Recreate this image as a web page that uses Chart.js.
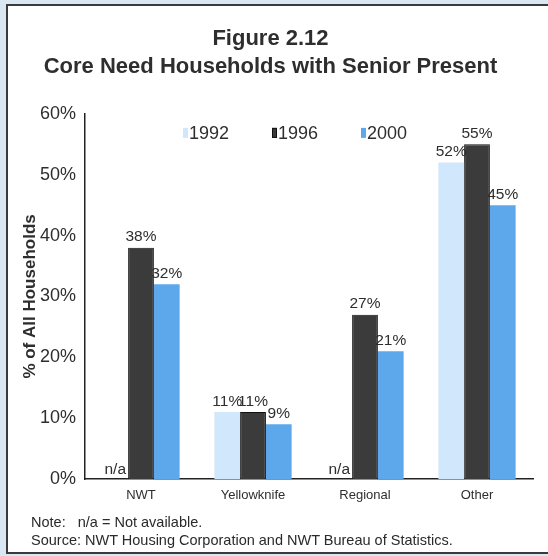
<!DOCTYPE html>
<html>
<head>
<meta charset="utf-8">
<script src="https://cdn.jsdelivr.net/npm/chart.js@4"></script>
<style>
    html, body { margin: 0; padding: 0; }
    body { width: 548px; height: 556px; background: #d9e7f3; overflow: hidden; position: relative; font-family: "Liberation Sans", Arial, sans-serif; }
    .frame { position: absolute; left: 6px; top: 4px; width: 560px; height: 550px; box-sizing: border-box; border: 2px solid #3a3a3a; background: #fff; }
    #chartBox { position: absolute; left: 0; top: 0; width: 540px; height: 545px; }
    .note { position: absolute; left: 23px; font-size: 14.5px; color: #2a2a2a; white-space: pre; }
</style>
</head>
<body>
<div class="frame">
    <div id="chartBox"><canvas id="seniorChart"></canvas></div>
    <div class="note" style="top: 508px;">Note:   n/a = Not available.</div>
    <div class="note" style="top: 526px;">Source: NWT Housing Corporation and NWT Bureau of Statistics.</div>
</div>
<script>
// chart data
const regions = ['NWT', 'Yellowknife', 'Regional', 'Other'];
const years = ['1992', '1996', '2000'];
const values1992 = [null, 11, null, 52];
const values1996 = [38, 11, 27, 55];
const values2000 = [32, 9, 21, 45];
const yTicks = [0, 10, 20, 30, 40, 50, 60];

const barColors = ['#d1e7fb', '#3b3b3b', '#5ca8eb'];
const textColor = '#2e2e2e';

// labels above each bar, "n/a" where there is no value
const barLabels = {
    id: 'barLabels',
    afterDatasetsDraw(chart) {
        const ctx = chart.ctx;
        const base = chart.scales.y.getPixelForValue(0);
        ctx.save();
        ctx.font = '15.5px "Liberation Sans", Arial, sans-serif';
        ctx.fillStyle = textColor;
        ctx.textAlign = 'center';
        ctx.textBaseline = 'bottom';
        chart.data.datasets.forEach((ds, di) => {
            chart.getDatasetMeta(di).data.forEach((bar, i) => {
                const v = ds.data[i];
                if (v === null) {
                    ctx.fillText('n/a', bar.x, base - 2);
                } else {
                    ctx.fillText(v + '%', bar.x, bar.y - 3);
                }
            });
        });
        ctx.restore();
    }
};

// legend sits inside the plot area near the top
const innerLegend = {
    id: 'innerLegend',
    afterDraw(chart) {
        const ctx = chart.ctx;
        const area = chart.chartArea;
        const y = area.top + 19;
        ctx.save();
        ctx.font = '18px "Liberation Sans", Arial, sans-serif';
        ctx.textBaseline = 'middle';
        ctx.textAlign = 'left';
        chart.data.datasets.forEach((ds, i) => {
            const x = area.left + 98 + i * 89;
            ctx.fillStyle = ds.backgroundColor;
            ctx.fillRect(x, y - 5, 5, 10);
            if (i === 1) {
                ctx.strokeStyle = '#111';
                ctx.lineWidth = 1;
                ctx.strokeRect(x + 0.5, y - 4.5, 4, 9);
            }
            ctx.fillStyle = textColor;
            ctx.fillText(ds.label, x + 6, y + 1);
        });
        ctx.restore();
    }
};

new Chart(document.getElementById('seniorChart'), {
    type: 'bar',
    data: {
        labels: regions,
        datasets: [
            { label: years[0], data: values1992, backgroundColor: barColors[0] },
            { label: years[1], data: values1996, backgroundColor: barColors[1], borderColor: '#111', borderWidth: 1 },
            { label: years[2], data: values2000, backgroundColor: barColors[2] }
        ]
    },
    options: {
        responsive: true,
        maintainAspectRatio: false,
        animation: false,
        categoryPercentage: 0.69,
        barPercentage: 1.0,
        layout: { padding: { left: 0, right: 15, top: 0, bottom: 42 } },
        plugins: {
            legend: { display: false },
            tooltip: { enabled: false },
            title: {
                display: true,
                text: ['Figure 2.12', 'Core Need Households with Senior Present'],
                color: textColor,
                font: { family: '"Liberation Sans", Arial, sans-serif', size: 22, weight: 'bold', lineHeight: 1.27 },
                padding: { top: 19, bottom: 33 }
            }
        },
        scales: {
            x: {
                grid: { display: false, drawTicks: false },
                border: { display: true, color: '#222', width: 1.5 },
                ticks: { color: textColor, padding: 9, font: { family: '"Liberation Sans", Arial, sans-serif', size: 13 } },
                afterFit(scale) { scale.height = 30; }
            },
            y: {
                min: 0,
                max: 60,
                afterBuildTicks(scale) { scale.ticks = yTicks.map(v => ({ value: v })); },
                grid: { display: false, drawTicks: false },
                border: { display: true, color: '#222', width: 1.5 },
                ticks: {
                    color: textColor,
                    padding: 9,
                    font: { family: '"Liberation Sans", Arial, sans-serif', size: 18 },
                    callback: v => v + '%'
                },
                title: {
                    display: true,
                    text: '% of All Households',
                    color: textColor,
                    font: { family: '"Liberation Sans", Arial, sans-serif', size: 17, weight: 'bold' },
                    padding: { top: 12, bottom: 0 }
                },
                afterFit(scale) { scale.width = 77; }
            }
        }
    },
    plugins: [barLabels, innerLegend]
});
</script>
</body>
</html>
